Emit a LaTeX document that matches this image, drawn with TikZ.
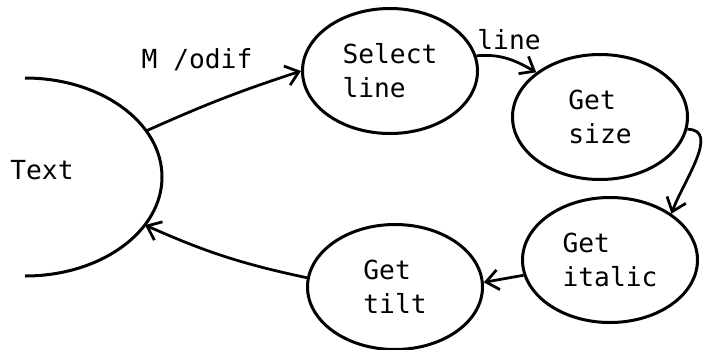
\documentclass[tikz,border=0pt]{standalone}
\usepackage{fontspec}
\setmonofont{DejaVu Sans Mono}
\usetikzlibrary{shapes.geometric,arrows.meta}

\tikzset{
  state/.style={draw, ellipse, line width=1.2pt, minimum width=70pt, minimum height=50pt, inner sep=0pt, align=left},
  trans/.style={line width=1.1pt, -{Straight Barb[length=5pt,width=8pt,line width=1.1pt]}},
  lbl/.style={inner sep=0pt}
}

\begin{document}
\begin{tikzpicture}[x=0.4pt, y=0.4pt, font=\ttfamily\fontsize{10.5}{13.5}\selectfont]
  \useasboundingbox (0,0) rectangle (707,349);

  \draw[line width=1.2pt] (25,271) arc[start angle=90, end angle=-90, x radius=137, y radius=99];
  \coordinate (mout) at (146,218);
  \coordinate (min) at (145,124);
  \node[lbl] (text) at (42,179) {Text};

  \node[state] (sel) at (390,278) {Select\\line};
  \node[state] (size) at (600,232) {Get\\size};
  \node[state] (italic) at (610,89) {Get\\italic};
  \node[state] (tilt) at (395,62) {Get\\tilt};

  \node[lbl] (modif) at (197,289) {M /odif};
  \node[lbl] (line) at (509,309) {line};

  \draw[trans] (mout) to[bend left=3] (sel.180);
  \draw[trans] (sel.10) to[out=5, in=150] (size.145);
  \draw[trans] (size.-8) to[out=0, in=70] (italic.37);
  \draw[trans] (italic.190) -- (tilt.3);
  \draw[trans] (tilt.174) to[bend left=6] (min);
\end{tikzpicture}
\end{document}
